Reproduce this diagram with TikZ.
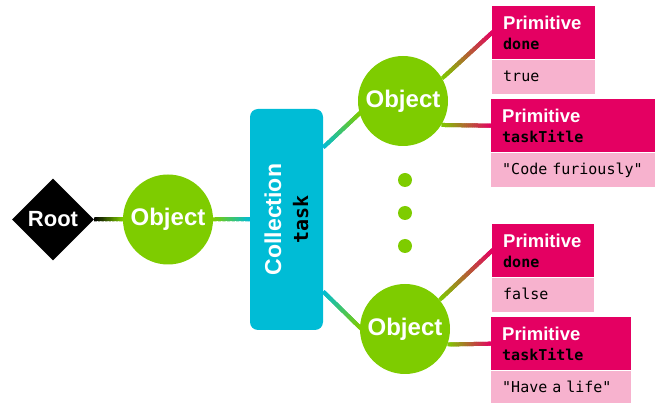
\documentclass[tikz,border=0pt]{standalone}
\usepackage{fontspec}
\setmainfont{Liberation Sans}
\setmonofont{DejaVu Sans Mono}
\usetikzlibrary{shapes.geometric,positioning,calc,backgrounds}

\definecolor{objgreen}{RGB}{126,204,0}
\definecolor{collcyan}{RGB}{0,188,214}
\definecolor{primdark}{RGB}{228,0,98}
\definecolor{primlight}{RGB}{247,178,206}

% line that fades from #3 to #4
\newcommand{\gradlink}[4]{%
  \foreach \s in {1,...,24}{%
    \pgfmathsetmacro{\pct}{100*(\s-0.5)/24}%
    \draw[link, #4!\pct!#3] ($(#1)!{(\s-1)/24}!(#2)$) -- ($(#1)!{\s/24+0.05}!(#2)$);
  }}

\begin{document}
\begin{tikzpicture}[x=1pt,y=-1pt,
    link/.style={line width=4pt},
    objnode/.style={circle,fill=objgreen,minimum size=90pt,inner sep=0pt,text=white,
      font=\fontsize{24}{28}\selectfont\bfseries},
    rootnode/.style={diamond,fill=black,minimum size=82pt,inner sep=0pt,text=white,
      font=\fontsize{22}{26}\selectfont\bfseries},
    collnode/.style={rectangle,rounded corners=8pt,fill=collcyan,minimum width=73pt,minimum height=221pt},
    dotnode/.style={circle,fill=objgreen,minimum size=14pt,inner sep=0pt},
    hdr/.style={rectangle,fill=primdark,anchor=north west,text width=#1,minimum height=53pt,
      inner xsep=11pt,inner ysep=0pt,align=left,font=\fontsize{18.5}{20}\selectfont},
    val/.style={rectangle,fill=primlight,text width=#1,minimum height=34pt,inner xsep=11pt,
      inner ysep=0pt,align=left,text height=12pt,text depth=3pt,font=\ttfamily\fontsize{15}{18}\selectfont}]
  \useasboundingbox (0,0) rectangle (657,403);

  \node[rootnode] (root) at (53,219.5) {Root};
  \node[objnode] (obj) at (168,219.5) {Object};
  \node[collnode] (coll) at (286.5,219.5) {};
  \node[rotate=90,align=center,font=\fontsize{23}{27}\selectfont\bfseries] (colllabel) at (coll.center)
    {\textcolor{white}{Collection}\\{\ttfamily\fontsize{20}{27}\selectfont task}};

  \node[objnode] (objtop) at (403,101) {Object};
  \node[objnode] (objbot) at (405,329) {Object};
  \foreach \y [count=\i] in {180,213,246}
    \node[dotnode] (dot\i) at (405,\y) {};

  \node[hdr=81pt] (donehdr1) at (492,6)
    {\textcolor{white}{\bfseries Primitive}\\{\ttfamily\bfseries\fontsize{15}{20}\selectfont done}};
  \node[val=81pt, below=0pt of donehdr1] (doneval1) {true};
  \node[hdr=142pt] (titlehdr1) at (491,99)
    {\textcolor{white}{\bfseries Primitive}\\{\ttfamily\bfseries\fontsize{15}{20}\selectfont taskTitle}};
  \node[val=142pt, below=0pt of titlehdr1] (titleval1) {\mbox{"Code furiously"}};

  \node[hdr=80pt] (donehdr2) at (492,224)
    {\textcolor{white}{\bfseries Primitive}\\{\ttfamily\bfseries\fontsize{15}{20}\selectfont done}};
  \node[val=80pt, below=0pt of donehdr2] (doneval2) {false};
  \node[hdr=118pt] (titlehdr2) at (491,317)
    {\textcolor{white}{\bfseries Primitive}\\{\ttfamily\bfseries\fontsize{15}{20}\selectfont taskTitle}};
  \node[val=118pt, below=0pt of titlehdr2] (titleval2) {\mbox{"Have a life"}};

  \begin{scope}[on background layer]
    \gradlink{root.east}{obj.west}{black}{objgreen}
    \gradlink{obj.east}{coll.west}{objgreen}{collcyan}
    \gradlink{coll.63}{objtop.196}{collcyan}{objgreen}
    \gradlink{coll.-63}{objbot.178}{collcyan}{objgreen}
    \gradlink{objtop.30}{donehdr1.west}{objgreen}{primdark}
    \gradlink{objtop.-32}{titlehdr1.west}{objgreen}{primdark}
    \gradlink{objbot.40}{donehdr2.west}{objgreen}{primdark}
    \gradlink{objbot.-20}{titlehdr2.west}{objgreen}{primdark}
  \end{scope}
\end{tikzpicture}
\end{document}
